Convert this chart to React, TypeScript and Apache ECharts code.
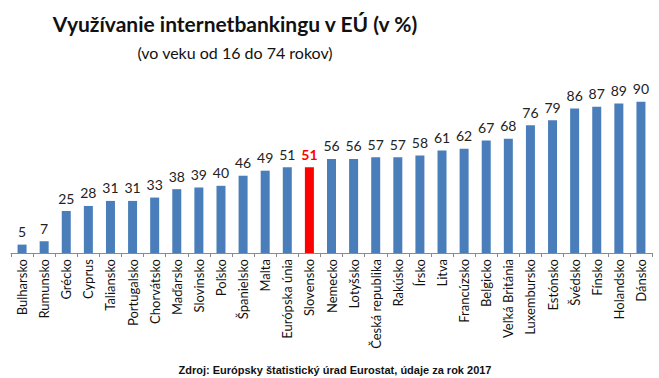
import React, { useEffect, useRef } from "react";
import * as echarts from "echarts";

const categories = [
  "Bulharsko", "Rumunsko", "Grécko", "Cyprus", "Taliansko", "Portugalsko", "Chorvátsko",
  "Maďarsko", "Slovinsko", "Poľsko", "Španielsko", "Malta", "Európska únia", "Slovensko",
  "Nemecko", "Lotyšsko", "Česká republika", "Rakúsko", "Írsko", "Litva", "Francúzsko",
  "Belgicko", "Veľká Británia", "Luxembursko", "Estónsko", "Švédsko", "Fínsko", "Holandsko", "Dánsko",
];
const values = [5, 7, 25, 28, 31, 31, 33, 38, 39, 40, 46, 49, 51, 51, 56, 56, 57, 57, 58, 61, 62, 67, 68, 76, 79, 86, 87, 89, 90];
const highlighted = ["Slovensko"];

const titleText = "Využívanie internetbankingu v EÚ (v %)";
const subtitleText = "(vo veku od 16 do 74 rokov)";
const sourceText = "Zdroj: Európsky štatistický úrad Eurostat, údaje za rok 2017";

export default function App() {
  const ref = useRef<HTMLDivElement>(null);
  useEffect(() => {
    if (!ref.current) return;
    const chart = echarts.init(ref.current, undefined, { renderer: "svg" });
    const data = values.map((v, i) => {
      const hl = highlighted.includes(categories[i]);
      return {
        value: v,
        itemStyle: { color: hl ? "#ff0000" : "#4a7ebb" },
        label: hl ? { color: "#ff0000", fontWeight: "bold" } : undefined,
      };
    });
    chart.setOption({
      animation: false,
      backgroundColor: "#ffffff",
      title: [
        {
          text: titleText,
          left: 230,
          top: 8,
          textAlign: "center",
          textStyle: { fontFamily: "Lato", fontWeight: "bold", fontSize: 21, color: "#111" },
        },
        {
          text: subtitleText,
          left: 230,
          top: 39,
          textAlign: "center",
          textStyle: { fontFamily: "Lato", fontWeight: "normal", fontSize: 16, color: "#111" },
        },
        {
          text: sourceText,
          left: 330,
          top: 359,
          textAlign: "center",
          textStyle: { fontFamily: "Liberation Sans", fontWeight: "bold", fontSize: 11, color: "#111" },
        },
      ],
      grid: { left: 11, right: 7, top: 85, bottom: 125, containLabel: false },
      xAxis: {
        type: "category",
        data: categories,
        axisLine: { lineStyle: { color: "#8a8a8a", width: 1 } },
        axisTick: { show: true, interval: 0, length: 4, lineStyle: { color: "#8a8a8a" } },
        axisLabel: {
          interval: 0,
          rotate: 90,
          margin: 6,
          fontFamily: "Lato",
          fontSize: 13,
          color: "#111",
        },
      },
      yAxis: {
        type: "value",
        min: 0,
        max: 100,
        show: false,
        splitLine: { show: false },
      },
      series: [
        {
          type: "bar",
          data,
          barWidth: 9,
          label: {
            show: true,
            position: "top",
            distance: 6,
            fontFamily: "Lato",
            fontSize: 14,
            color: "#222",
          },
        },
      ],
    });
    return () => chart.dispose();
  }, []);
  return <div ref={ref} style={{ width: 659, height: 378, position: "absolute", left: 0, top: 0 }} />;
}
